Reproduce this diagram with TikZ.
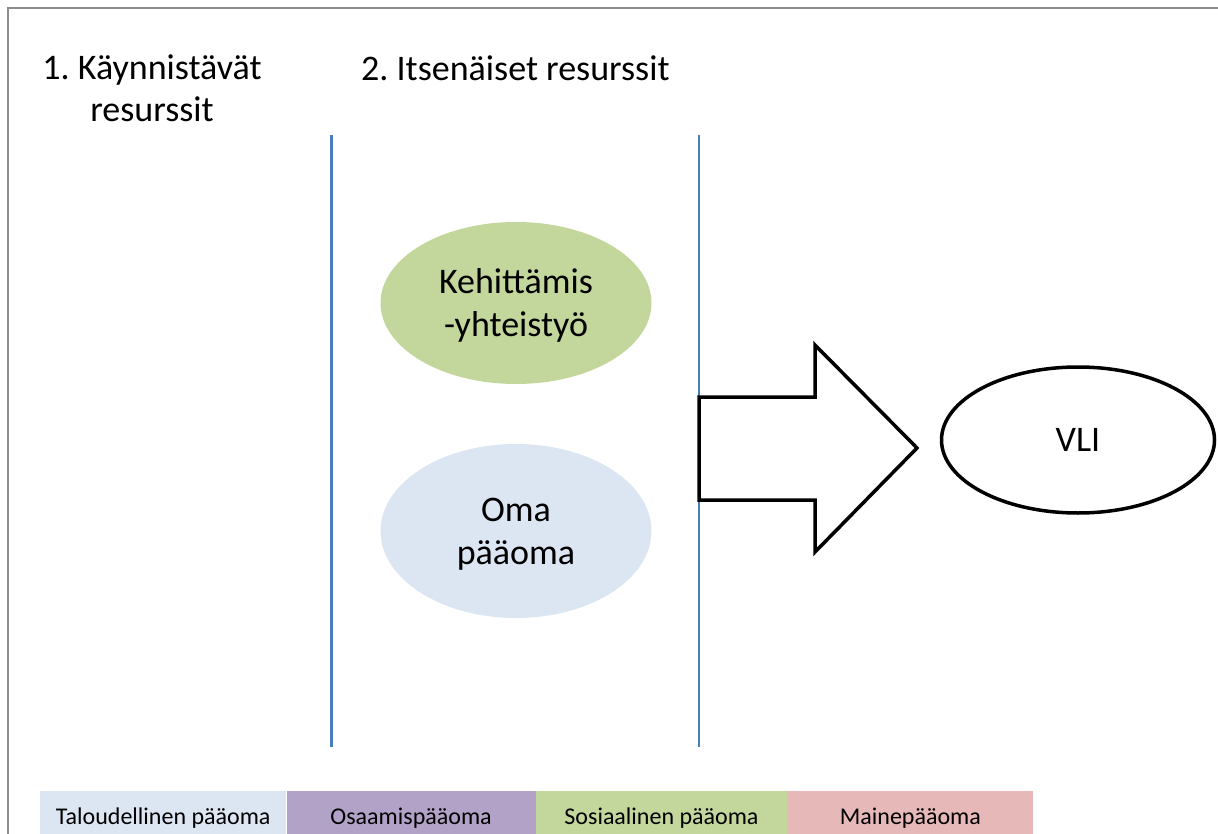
\documentclass[tikz,border=0pt]{standalone}
\usepackage{fontspec}
\setmainfont{Carlito}
\frenchspacing
\usetikzlibrary{shapes.geometric}
\definecolor{frame}{RGB}{140,140,140}
\definecolor{divider}{RGB}{74,126,187}
\definecolor{econ}{RGB}{220,230,242}
\definecolor{know}{RGB}{179,162,199}
\definecolor{social}{RGB}{195,214,155}
\definecolor{fame}{RGB}{230,185,184}
\tikzset{
  x=1pt, y=-1pt,
  big/.style={font=\fontsize{36}{36}\selectfont},
  head/.style={font=\fontsize{36}{42}\selectfont, align=center, inner sep=0pt},
  blob/.style={ellipse, draw=none, minimum width=271pt, inner sep=0pt, text depth=0pt,
               font=\fontsize{36}{43}\selectfont, align=center},
  legend/.style={minimum height=54pt, inner sep=0pt, anchor=north west,
                 text height=17pt, text depth=5pt, font=\fontsize{24}{24}\selectfont},
  divline/.style={divider, line width=3pt},
}
\begin{document}
\begin{tikzpicture}
\useasboundingbox (0,0) rectangle (1218,834);
% outer frame
\draw[frame, line width=2pt] (8,834) -- (8,8) -- (1218,8);
% column headings
\node[head] (h1) at (152,88) {1. Käynnistävät\\resurssit};
\node[head, anchor=base west] (h2) at (361,81) {2. Itsenäiset resurssit};
% column dividers
\draw[divline] (331,135) -- (331,747);
\draw[divline, line width=2.2pt] (699,135) -- (699,747);
% resources
\node[blob, fill=social, minimum height=162pt] (dev) at (516,303) {Kehittämis\\-yhteistyö};
\node[blob, fill=econ, minimum height=174pt] (own) at (516,531) {Oma\\pääoma};
% outcome
\node[ellipse, draw, line width=3.5pt, minimum width=273pt, minimum height=146pt,
      big] (vli) at (1078,440) {VLI};
% block arrow towards the outcome
\draw[line width=3.5pt, fill=white, line join=miter]
  (699,397) -- (815,397) -- (815,345) -- (917,448) -- (815,552) -- (815,500) -- (699,500) -- cycle;
% capital legend
\node[legend, fill=econ, minimum width=246pt] (l1) at (40,791) {Taloudellinen pääoma};
\node[legend, fill=know, minimum width=249pt] (l2) at (l1.north east) {Osaamispääoma};
\node[legend, fill=social, minimum width=251pt] (l3) at (l2.north east) {Sosiaalinen pääoma};
\node[legend, fill=fame, minimum width=246pt] (l4) at (l3.north east) {Mainepääoma};
\end{tikzpicture}
\end{document}
